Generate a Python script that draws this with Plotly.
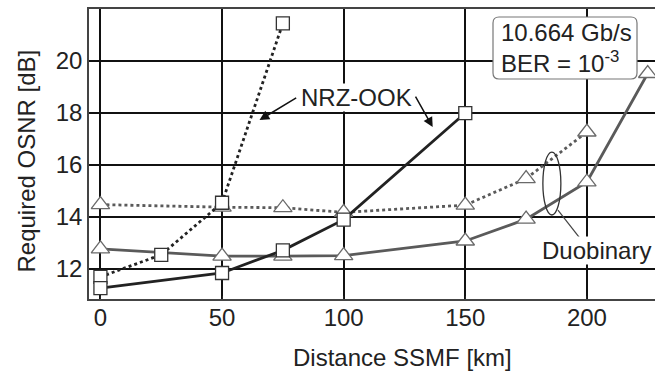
import plotly.graph_objects as go

# ---- data ----
nrz_dot_x = [0, 25, 50, 75]
nrz_dot_y = [11.7, 12.55, 14.55, 21.45]
nrz_sol_x = [0, 50, 75, 100, 150]
nrz_sol_y = [11.27, 11.85, 12.72, 13.9, 18.0]
duo_dot_x = [0, 50, 75, 100, 150, 175, 200]
duo_dot_y = [14.48, 14.38, 14.36, 14.18, 14.46, 15.48, 17.27]
duo_sol_x = [0, 50, 75, 100, 150, 175, 200, 225]
duo_sol_y = [12.78, 12.5, 12.5, 12.52, 13.08, 13.92, 15.35, 19.52]
x_ticks = [0, 50, 100, 150, 200]
y_ticks = [12, 14, 16, 18, 20]

FONT = "Liberation Sans, Arial, sans-serif"
DARK = "#222222"
GRAY = "#5a5a5a"

fig = go.Figure()

def add(x, y, color, dash, symbol, msize, mline):
    fig.add_trace(go.Scatter(
        x=x, y=y, mode="lines+markers",
        line=dict(color=color, width=2.8, dash=dash),
        marker=dict(symbol=symbol, size=msize, color="white",
                    line=dict(color=mline, width=1.3)),
        showlegend=False, cliponaxis=False))

add(duo_dot_x, duo_dot_y, GRAY, "dot", "triangle-up", 16, "#6a6a6a")
add(duo_sol_x, duo_sol_y, GRAY, "solid", "triangle-up", 16, "#6a6a6a")
add(nrz_dot_x, nrz_dot_y, DARK, "dot", "square", 13, "#333333")
add(nrz_sol_x, nrz_sol_y, DARK, "solid", "square", 13, "#333333")

# ellipse + leader line for Duobinary
fig.add_shape(type="circle", xref="x", yref="y", x0=181.9, x1=189.3, y0=14.08, y1=16.5,
              line=dict(color="#333333", width=1.3))
fig.add_shape(type="line", xref="x", yref="y", x0=188.1, y0=14.27, x1=197.1, y1=13.19,
              line=dict(color="#444444", width=1.2))

# NRZ-OOK label and arrows
fig.add_annotation(x=105.3, y=18.6, xref="x", yref="y", text="NRZ-OOK", showarrow=False,
                   font=dict(family=FONT, size=24, color=DARK), bgcolor="white",
                   borderpad=0)
for (tx, ty, hx, hy) in [(81.1, 18.62, 65.4, 17.73), (129.2, 18.69, 136.6, 17.46)]:
    fig.add_annotation(x=hx, y=hy, ax=tx, ay=ty, xref="x", yref="y", axref="x", ayref="y",
                       text="", showarrow=True, arrowhead=2, arrowsize=1.3,
                       arrowwidth=1.5, arrowcolor="#111111")

# Duobinary label
fig.add_annotation(x=204.1, y=12.73, xref="x", yref="y", text="Duobinary", showarrow=False,
                   font=dict(family=FONT, size=24, color=DARK), bgcolor="white", borderpad=0)

# info box (rounded rectangle in paper coords)
W, H = 566.0, 290.0
def px(x):
    return (x - 89) / W
def py(y):
    return (299 - y) / H
bx0, bx1, by0, by1, r = 493, 637, 17, 79, 6
path = (f"M {px(bx0 + r)},{py(by0)} L {px(bx1 - r)},{py(by0)} "
        f"Q {px(bx1)},{py(by0)} {px(bx1)},{py(by0 + r)} "
        f"L {px(bx1)},{py(by1 - r)} Q {px(bx1)},{py(by1)} {px(bx1 - r)},{py(by1)} "
        f"L {px(bx0 + r)},{py(by1)} Q {px(bx0)},{py(by1)} {px(bx0)},{py(by1 - r)} "
        f"L {px(bx0)},{py(by0 + r)} Q {px(bx0)},{py(by0)} {px(bx0 + r)},{py(by0)} Z")
fig.add_shape(type="path", xref="paper", yref="paper", path=path,
              fillcolor="white", line=dict(color="#777777", width=1.2), layer="above")
fig.add_annotation(x=px(566), y=py(48), xref="paper", yref="paper",
                   xanchor="center", yanchor="middle",
                   text="10.664 Gb/s<br>BER = 10<sup>-3</sup>", showarrow=False,
                   font=dict(family=FONT, size=24, color=DARK), align="left")

# axis titles
fig.add_annotation(x=px(403), y=py(357), xref="paper", yref="paper",
                   text="Distance SSMF [km]", showarrow=False, xanchor="center",
                   yanchor="middle", font=dict(family=FONT, size=24, color=DARK))
fig.add_annotation(x=px(26), y=py(161.5), xref="paper", yref="paper",
                   text="Required OSNR [dB]", showarrow=False, textangle=-90,
                   xanchor="center", yanchor="middle",
                   font=dict(family=FONT, size=24, color=DARK))

fig.update_layout(
    width=655, height=371,
    margin=dict(l=89, r=0, t=9, b=72),
    plot_bgcolor="white", paper_bgcolor="white",
    font=dict(family=FONT, size=24, color=DARK),
    xaxis=dict(range=[-4.7, 228], tickvals=x_ticks, showgrid=True, gridcolor="#111111",
               gridwidth=2.2, zeroline=False, showline=True, linecolor="#444444",
               linewidth=1.5, mirror=True, ticks="inside", ticklen=3, tickcolor="#222222",
               tickfont=dict(size=24, color=DARK)),
    yaxis=dict(range=[10.85, 22.0], tickvals=y_ticks, showgrid=True, gridcolor="#111111",
               gridwidth=2.2, zeroline=False, showline=True, linecolor="#444444",
               linewidth=1.5, mirror=False, ticks="", tickfont=dict(size=24, color=DARK)),
)
try:
    fig.update_xaxes(ticklabelstandoff=-4)
except Exception:
    pass

fig.write_html("out.html", config={"displayModeBar": False},
               post_script="document.body.style.margin='0';document.body.style.overflow='hidden';")
